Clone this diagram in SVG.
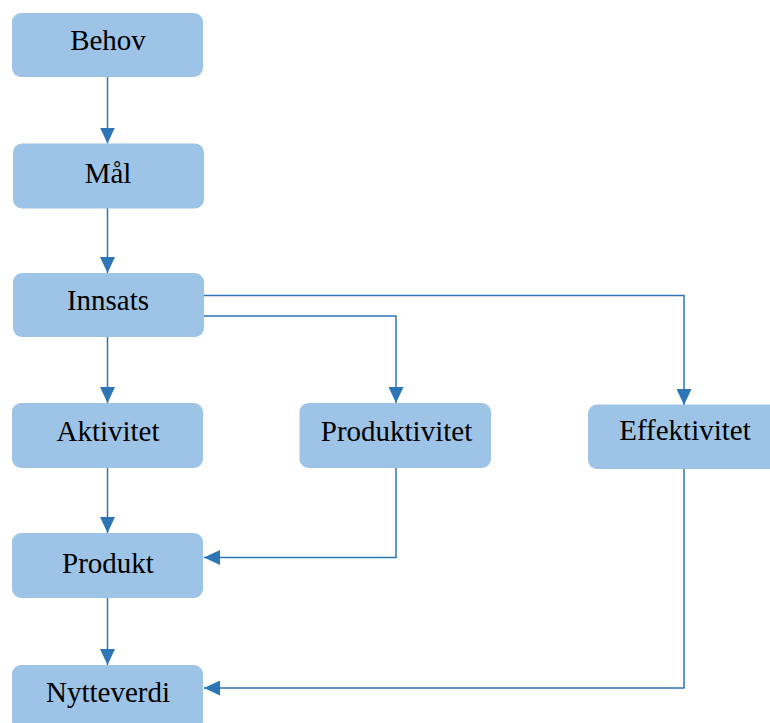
<svg xmlns="http://www.w3.org/2000/svg" width="770" height="723" viewBox="0 0 770 723">
  <style>
    .box { fill: #9DC3E6; }
    .label { font-family: "Liberation Serif", "Times New Roman", serif; font-size: 29px; fill: #000; text-anchor: middle; }
    .link { fill: none; stroke: #2E75B6; stroke-width: 1.5; marker-end: url(#arrow); }
  </style>
  <defs>
    <marker id="arrow" markerUnits="userSpaceOnUse" markerWidth="16" markerHeight="15" refX="16" refY="7.5" orient="auto">
      <path d="M0,0 L16,7.5 L0,15 Z" fill="#2E75B6"/>
    </marker>
  </defs>
  <rect width="770" height="723" fill="#ffffff"/>

  <g id="connectors">
    <path class="link" d="M107.5,77 V143.5"/>
    <path class="link" d="M107.5,208 V273"/>
    <path class="link" d="M107.5,337 V403"/>
    <path class="link" d="M107.5,468 V533"/>
    <path class="link" d="M107.5,598 V665"/>
    <path class="link" d="M204,295.5 H684 V405"/>
    <path class="link" d="M204,316 H396 V403"/>
    <path class="link" d="M396,468 V557.5 H204"/>
    <path class="link" d="M684,469 V688 H204"/>
  </g>

  <g id="behov">
    <rect class="box" x="12" y="13" width="191" height="64" rx="9"/>
    <text class="label" x="108" y="49.5">Behov</text>
  </g>
  <g id="maal">
    <rect class="box" x="13" y="143.5" width="191" height="65" rx="9"/>
    <text class="label" x="108" y="182.5">Mål</text>
  </g>
  <g id="innsats">
    <rect class="box" x="13" y="273" width="191" height="64" rx="9"/>
    <text class="label" x="108" y="310">Innsats</text>
  </g>
  <g id="aktivitet">
    <rect class="box" x="12" y="403" width="191" height="65" rx="9"/>
    <text class="label" x="108" y="440.5">Aktivitet</text>
  </g>
  <g id="produktivitet">
    <rect class="box" x="299.5" y="403" width="191.5" height="65" rx="9"/>
    <text class="label" x="396.5" y="440.5">Produktivitet</text>
  </g>
  <g id="effektivitet">
    <rect class="box" x="588" y="404.5" width="191" height="64.5" rx="9"/>
    <text class="label" x="685" y="440">Effektivitet</text>
  </g>
  <g id="produkt">
    <rect class="box" x="12" y="533" width="191" height="65" rx="9"/>
    <text class="label" x="108" y="573">Produkt</text>
  </g>
  <g id="nytteverdi">
    <rect class="box" x="12" y="665" width="191" height="65" rx="9"/>
    <text class="label" x="108" y="702">Nytteverdi</text>
  </g>
</svg>
